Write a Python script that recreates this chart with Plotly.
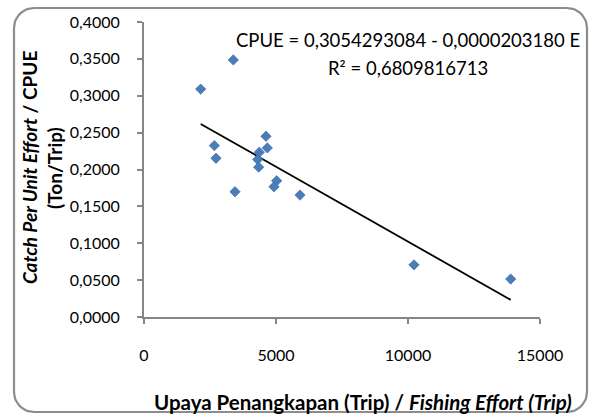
import numpy as np
import plotly.graph_objects as go

# Data
effort = [3383, 2147, 2664, 2727, 4621, 4672, 4368, 4306, 4343, 3447, 5025, 4924, 5909, 10227, 13890]
cpue = [0.3486, 0.3090, 0.2324, 0.2153, 0.2450, 0.2293, 0.2234, 0.2135, 0.2032, 0.1699, 0.1847, 0.1766, 0.1653, 0.0707, 0.0514]
intercept = 0.3054293084
slope = -0.0000203180
r2_text = "0,6809816713"
x_ticks = [0, 5000, 10000, 15000]

W, H = 591, 417
def px(x): return x / W
def py(y): return 1 - y / H

x_min, x_max = min(effort), max(effort)
trend_x = [x_min, x_max]
trend_y = [intercept + slope * v for v in trend_x]

# Rounded chart-frame outline (figure pixel space)
L, T, R, B, rad = 14, 8, 587, 412, 20
frame_x, frame_y = [], []
for cx, cy, a0 in [(R - rad, T + rad, -90), (R - rad, B - rad, 0), (L + rad, B - rad, 90), (L + rad, T + rad, 180)]:
    ang = np.radians(np.linspace(a0, a0 + 90, 12))
    frame_x += list(cx + rad * np.cos(ang))
    frame_y += list(cy + rad * np.sin(ang))
frame_x.append(frame_x[0]); frame_y.append(frame_y[0])

fig = go.Figure()
fig.add_trace(go.Scatter(x=frame_x, y=frame_y, mode="lines", xaxis="x2", yaxis="y2",
                         line=dict(color="#8C8C8C", width=2.2), hoverinfo="skip",
                         cliponaxis=False))
fig.add_trace(go.Scatter(x=trend_x, y=trend_y, mode="lines",
                         line=dict(color="black", width=1.8), hoverinfo="skip"))
fig.add_trace(go.Scatter(x=effort, y=cpue, mode="markers",
                         marker=dict(symbol="diamond", size=8, color="#4A7EBB",
                                     line=dict(color="#3B67A0", width=0.6))))

font = "Lato, 'Open Sans', sans-serif"
axis_color = "#868686"

fig.update_layout(
    width=W, height=H, autosize=False,
    margin=dict(l=0, r=0, t=0, b=0),
    paper_bgcolor="white", plot_bgcolor="rgba(0,0,0,0)",
    showlegend=False,
    separators=",.",
    font=dict(family=font, size=16, color="black"),
    xaxis=dict(domain=[px(144), px(540)], range=[0, 15000], tickvals=x_ticks,
               tickformat="d", automargin=False,
               ticks="outside", ticklen=5, tickcolor=axis_color, tickwidth=1.5,
               showline=True, linecolor=axis_color, linewidth=2,
               showgrid=False, zeroline=False, ticklabelstandoff=18,
               tickfont=dict(size=16)),
    yaxis=dict(domain=[py(317), py(22)], range=[0, 0.4], dtick=0.05, tick0=0,
               automargin=False,
               tickformat=".4f", ticks="outside", ticklen=5, tickcolor=axis_color,
               tickwidth=1.5, showline=True, linecolor=axis_color, linewidth=2,
               showgrid=False, zeroline=False, ticklabelstandoff=14,
               tickfont=dict(size=16)),
    xaxis2=dict(domain=[0, 1], range=[0, W], visible=False, fixedrange=True, automargin=False),
    yaxis2=dict(domain=[0, 1], range=[H, 0], visible=False, fixedrange=True, automargin=False),
)

eq_text = f"CPUE = {intercept:.10f}".replace(".", ",") + " - " + f"{abs(slope):.10f}".replace(".", ",") + " E"
fig.add_annotation(x=px(407.5), y=py(40), xref="paper", yref="paper", text=eq_text,
                   showarrow=False, font=dict(size=18.5), xanchor="center", yanchor="middle")
fig.add_annotation(x=px(407.5), y=py(68), xref="paper", yref="paper", text=f"R² = {r2_text}",
                   showarrow=False, font=dict(size=18.5), xanchor="center", yanchor="middle")

# Axis titles
fig.add_annotation(x=px(30), y=py(168), xref="paper", yref="paper",
                   text="<b><i>Catch Per Unit Effort</i> / CPUE</b>", textangle=-90,
                   showarrow=False, font=dict(size=19), xanchor="center", yanchor="middle")
fig.add_annotation(x=px(55), y=py(168), xref="paper", yref="paper",
                   text="<b>(Ton/Trip)</b>", textangle=-90,
                   showarrow=False, font=dict(size=19), xanchor="center", yanchor="middle")
fig.add_annotation(x=px(363), y=py(402), xref="paper", yref="paper",
                   text="<b>Upaya Penangkapan (Trip) / <i>Fishing Effort (Trip)</i></b>",
                   showarrow=False, font=dict(size=20.5), xanchor="center", yanchor="middle")

fig.write_html("out.html", config={"displayModeBar": False},
               post_script="document.body.style.margin='0';")
